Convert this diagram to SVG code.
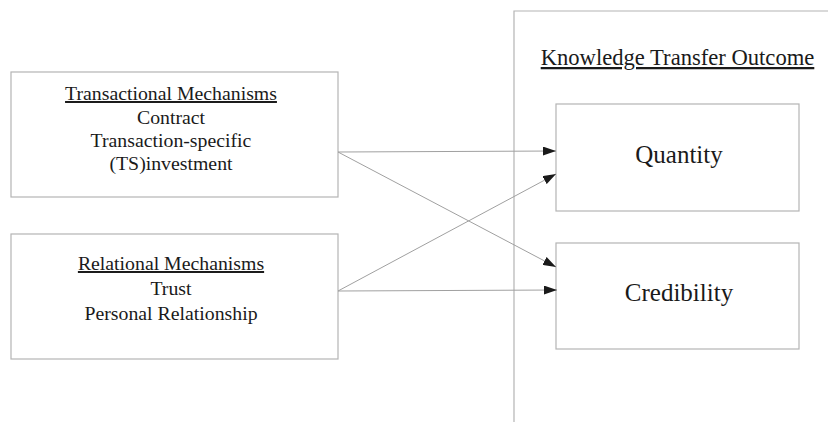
<svg xmlns="http://www.w3.org/2000/svg" width="828" height="422" viewBox="0 0 828 422">
<style>
.box{fill:#fff;stroke:#b4b4b4;stroke-width:1.2}
.t{font-family:"Liberation Serif",serif;fill:#1a1a1a;text-anchor:middle}
.s{font-size:19.8px}
.b{font-size:25px}
.c{stroke:#a0a0a0;stroke-width:1;fill:none;marker-end:url(#ah)}
</style>
<defs>
<marker id="ah" viewBox="0 0 13 9" refX="13" refY="4.5" markerWidth="13" markerHeight="9" markerUnits="userSpaceOnUse" orient="auto">
<path d="M0,0 L13,4.5 L0,9 Z" fill="#1a1a1a"/>
</marker>
</defs>
<rect width="828" height="422" fill="#fff"/>
<g id="outcome">
<path d="M514,422 L514,11 L828,11" class="box" fill="none"/>
<text class="t" x="677.5" y="65" font-size="22.6" text-decoration="underline">Knowledge Transfer Outcome</text>
</g>
<g id="transactional">
<rect class="box" x="11" y="72" width="327" height="125"/>
<text class="t s" x="171" y="100" text-decoration="underline">Transactional Mechanisms</text>
<text class="t s" x="171" y="124">Contract</text>
<text class="t s" x="171" y="147">Transaction-specific</text>
<text class="t s" x="171" y="170">(TS)investment</text>
</g>
<g id="relational">
<rect class="box" x="11" y="234" width="327" height="125"/>
<text class="t s" x="171" y="270" text-decoration="underline">Relational Mechanisms</text>
<text class="t s" x="171" y="295">Trust</text>
<text class="t s" x="171" y="320">Personal Relationship</text>
</g>
<g id="quantity">
<rect class="box" x="556" y="104" width="243" height="107"/>
<text class="t b" x="679" y="163">Quantity</text>
</g>
<g id="credibility">
<rect class="box" x="556" y="243" width="243" height="106"/>
<text class="t b" x="679" y="301">Credibility</text>
</g>
<g id="connectors">
<line class="c" x1="338" y1="152" x2="556" y2="151"/>
<line class="c" x1="338" y1="152" x2="556" y2="267"/>
<line class="c" x1="338" y1="291" x2="556" y2="174"/>
<line class="c" x1="338" y1="291" x2="557" y2="290"/>
</g>
</svg>
